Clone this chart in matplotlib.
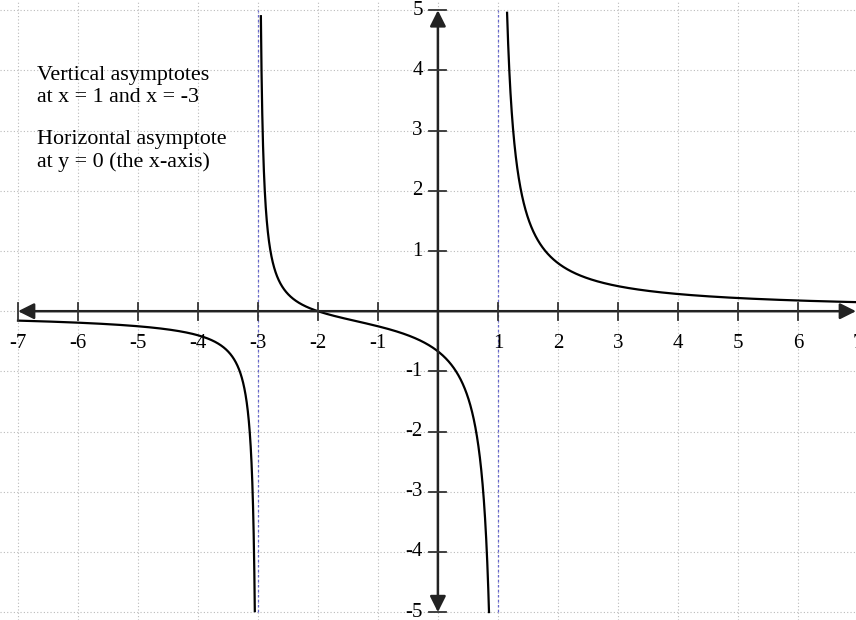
import numpy as np
import matplotlib.pyplot as plt

# values
vertical_asymptotes = [-3, 1]
zero_at = -2
x_ticks = [-7, -6, -5, -4, -3, -2, -1, 1, 2, 3, 4, 5, 6, 7]
y_ticks = [-5, -4, -3, -2, -1, 1, 2, 3, 4, 5]
note_lines = ["Vertical asymptotes", "at x = 1 and x = -3", "",
              "Horizontal asymptote", "at y = 0 (the x-axis)"]

plt.rcParams['font.family'] = ['Liberation Serif', 'DejaVu Serif']

fig = plt.figure(figsize=(8.56, 6.2), dpi=100)
ax = fig.add_axes([0, 0, 1, 1])
ax.set_xlim(-7.3, 6.97)
ax.set_ylim(-5.13, 5.17)
ax.axis('off')

# grid
for gx in range(-7, 8):
    ax.axvline(gx, color='#bbbbbb', lw=0.8, ls=(0, (1, 2)), zorder=0)
for gy in range(-5, 6):
    ax.axhline(gy, color='#bbbbbb', lw=0.8, ls=(0, (1, 2)), zorder=0)

# asymptotes
for va in vertical_asymptotes:
    ax.plot([va, va], [-5, 5], color='#6666cc', lw=0.9, ls=(0, (2, 2)), zorder=1)


def f(x):
    return (x - zero_at) / ((x - vertical_asymptotes[0]) * (x - vertical_asymptotes[1]))


# curve branches, cut off at y = +-5
edges = [-7] + vertical_asymptotes + [7]
for a, b in zip(edges[:-1], edges[1:]):
    xs = np.linspace(a + 1e-4, b - 1e-4, 4000)
    ys = f(xs)
    keep = np.abs(ys) <= 5
    ax.plot(xs[keep], ys[keep], color='black', lw=1.6, zorder=3)

# axes with arrows
arrow = dict(arrowstyle='<|-|>', color='#222222', lw=1.8, mutation_scale=24,
             shrinkA=0, shrinkB=0)
ax.annotate('', xy=(-7, 0), xytext=(6.97, 0), arrowprops=arrow, zorder=4)
ax.annotate('', xy=(0, -5), xytext=(0, 5), arrowprops=arrow, zorder=4)

# ticks and labels
for t in x_ticks:
    ax.plot([t, t], [-0.14, 0.14], color='#333333', lw=1.3, zorder=4)
    ax.text(t, -0.38, str(t), ha='center', va='top', fontsize=15)
for t in y_ticks:
    ax.plot([-0.14, 0.14], [t, t], color='#333333', lw=1.3, zorder=4)
    ax.text(-0.25, t, str(t), ha='right', va='center', fontsize=15)

ax.text(-6.68, 4.07, "\n".join(note_lines), ha='left', va='top',
        fontsize=15.8, linespacing=1.17)

fig.savefig('out.png', dpi=100)
